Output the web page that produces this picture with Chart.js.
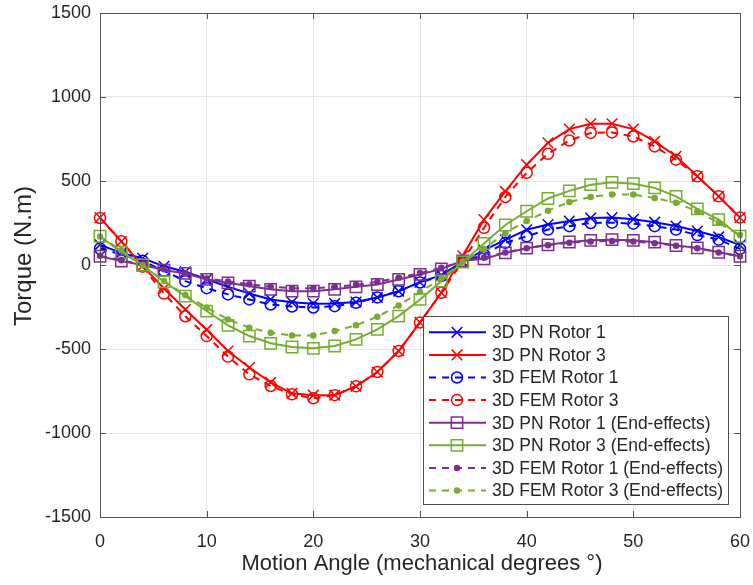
<!DOCTYPE html>
<html>
<head>
<meta charset="utf-8">
<script src="https://cdn.jsdelivr.net/npm/chart.js@4.4.0/dist/chart.umd.min.js"></script>
<style>
  body { margin: 0; background: #fff; }
</style>
</head>
<body>
<canvas id="torque-chart" width="753" height="585"></canvas>
<script>
// DATA (motion angle in mechanical degrees, torque in N.m)
const angles = [0, 2, 4, 6, 8, 10, 12, 14, 16, 18, 20, 22, 24, 26, 28, 30,
  32, 34, 36, 38, 40, 42, 44, 46, 48, 50, 52, 54, 56, 58, 60];

const pnRotor1 = [120, 72, 40, -8, -40, -85, -130, -170, -205, -222, -230, -229, -220, -193, -156, -102,
  -60, 20, 88, 150, 210, 241, 262, 280, 282, 272, 255, 232, 202, 167, 118];
const pnRotor3 = [282, 140, -5, -140, -265, -385, -512, -610, -699, -764, -775, -775, -722, -637, -512, -342,
  -165, 55, 270, 438, 597, 727, 809, 841, 841, 809, 736, 647, 528, 409, 282];
const femRotor1 = [98, 62, 25, -35, -96, -138, -175, -205, -235, -247, -253, -245, -225, -193, -156, -104,
  -66, 20, 62, 132, 171, 211, 231, 250, 252, 246, 231, 211, 178, 151, 96];
const femRotor3 = [280, 141, -10, -170, -305, -423, -545, -651, -720, -770, -793, -775, -722, -637, -512, -342,
  -165, 23, 221, 405, 549, 662, 741, 786, 789, 765, 706, 627, 528, 409, 282];
const pnRotor1End = [52, 23, 0, -30, -50, -86, -106, -126, -145, -156, -156, -145, -130, -116, -86, -56,
  -23, 25, 37, 72, 100, 120, 137, 147, 151, 147, 136, 116, 102, 76, 52];
const pnRotor3End = [171, 76, 0, -100, -185, -274, -359, -423, -466, -488, -496, -482, -443, -383, -304, -205,
  -96, 18, 128, 238, 320, 396, 441, 478, 492, 484, 459, 409, 334, 270, 171];
const femRotor1End = [55, 28, 2, -25, -48, -80, -98, -115, -130, -138, -138, -130, -118, -100, -76, -48,
  -17, 22, 45, 75, 100, 118, 132, 140, 143, 140, 130, 115, 100, 75, 52];
const femRotor3End = [170, 88, -2, -95, -179, -254, -324, -373, -403, -419, -419, -393, -359, -308, -241, -161,
  -80, 20, 95, 191, 262, 323, 375, 405, 419, 419, 399, 370, 320, 251, 178];

const seriesNames = ['3D PN Rotor 1', '3D PN Rotor 3', '3D FEM Rotor 1', '3D FEM Rotor 3',
  '3D PN Rotor 1 (End-effects)', '3D PN Rotor 3 (End-effects)',
  '3D FEM Rotor 1 (End-effects)', '3D FEM Rotor 3 (End-effects)'];
const seriesValues = [pnRotor1, pnRotor3, femRotor1, femRotor3,
  pnRotor1End, pnRotor3End, femRotor1End, femRotor3End];

const xTicks = { min: 0, max: 60, step: 10 };
const yTicks = { min: -1500, max: 1500, step: 500 };

// STYLES
const BLUE = '#0000ff';
const RED = '#ff0000';
const PURPLE = '#7e2f8e';
const GREEN = '#77ac30';
const TEXT = '#262626';
const AXIS = '#555555';
const FONT = "'Liberation Sans', Arial, sans-serif";
const DASH = [7, 6];

const styles = [
  { color: BLUE, dash: [], marker: 'crossRot', r: 7.5, fill: false },
  { color: RED, dash: [], marker: 'crossRot', r: 7.5, fill: false },
  { color: BLUE, dash: DASH, marker: 'circle', r: 5.5, fill: false },
  { color: RED, dash: DASH, marker: 'circle', r: 5.5, fill: false },
  { color: PURPLE, dash: [], marker: 'rect', r: 8, fill: false },
  { color: GREEN, dash: [], marker: 'rect', r: 8, fill: false },
  { color: PURPLE, dash: DASH, marker: 'circle', r: 2.5, fill: true },
  { color: GREEN, dash: DASH, marker: 'circle', r: 2.5, fill: true }
];

function toPoints(vals) {
  return angles.map((a, i) => ({ x: a, y: vals[i] }));
}

// BUILD THE DATASETS FROM THE ARRAYS
const datasets = seriesValues.map((vals, i) => ({
  label: seriesNames[i],
  data: toPoints(vals),
  borderColor: styles[i].color,
  backgroundColor: styles[i].fill ? styles[i].color : 'rgba(0,0,0,0)',
  borderWidth: 2,
  borderDash: styles[i].dash,
  pointStyle: styles[i].marker,
  pointRadius: styles[i].r,
  pointBorderWidth: 1.5,
  pointBackgroundColor: styles[i].fill ? styles[i].color : 'rgba(0,0,0,0)',
  pointBorderColor: styles[i].color,
  tension: 0,
  fill: false,
  clip: false,
  order: seriesNames.length - i
}));

// FRAME, INWARD TICKS, AXIS TITLES AND THE BOXED LEGEND
const matlabLook = {
  id: 'matlabLook',
  afterDraw(chart) {
    const ctx = chart.ctx;
    const { left, right, top, bottom } = chart.chartArea;
    const xs = chart.scales.x;
    const ys = chart.scales.y;

    ctx.save();
    ctx.strokeStyle = AXIS;
    ctx.lineWidth = 1;
    ctx.setLineDash([]);
    ctx.beginPath();
    xs.ticks.forEach(t => {
      const px = Math.round(xs.getPixelForValue(t.value)) + 0.5;
      ctx.moveTo(px, bottom); ctx.lineTo(px, bottom - 6);
      ctx.moveTo(px, top); ctx.lineTo(px, top + 6);
    });
    ys.ticks.forEach(t => {
      const py = Math.round(ys.getPixelForValue(t.value)) + 0.5;
      ctx.moveTo(left, py); ctx.lineTo(left + 6, py);
      ctx.moveTo(right, py); ctx.lineTo(right - 6, py);
    });
    ctx.stroke();
    ctx.strokeRect(Math.round(left) + 0.5, Math.round(top) + 0.5,
      Math.round(right - left), Math.round(bottom - top));

    // axis titles
    ctx.fillStyle = TEXT;
    ctx.textAlign = 'center';
    ctx.textBaseline = 'middle';
    ctx.font = '22px ' + FONT;
    ctx.fillText('Motion Angle (mechanical degrees °)', (left + right) / 2 + 2, 564);
    ctx.save();
    ctx.translate(24, (top + bottom) / 2 - 9);
    ctx.rotate(-Math.PI / 2);
    ctx.font = '24px ' + FONT;
    ctx.fillText('Torque (N.m)', 0, 0);
    ctx.restore();

    // legend
    ctx.font = '17.5px ' + FONT;
    let maxW = 0;
    seriesNames.forEach(n => { maxW = Math.max(maxW, ctx.measureText(n).width); });
    const rowH = 22.6;
    const boxW = Math.round(69 + maxW + 5);
    const boxH = Math.round(16.3 + 7 * rowH + 13.3);
    const bx = Math.round(right - 12 - boxW);
    const by = Math.round(bottom - 13 - boxH);
    ctx.fillStyle = '#ffffff';
    ctx.fillRect(bx, by, boxW, boxH);
    ctx.strokeStyle = '#4d4d4d';
    ctx.strokeRect(bx + 0.5, by + 0.5, boxW, boxH);

    chart.data.datasets.forEach((ds, i) => {
      const y = by + 16.3 + i * rowH;
      ctx.save();
      ctx.strokeStyle = ds.borderColor;
      ctx.lineWidth = 2;
      ctx.setLineDash(ds.borderDash);
      ctx.beginPath();
      ctx.moveTo(bx + 6, y);
      ctx.lineTo(bx + 63, y);
      ctx.stroke();
      ctx.setLineDash([]);
      ctx.lineWidth = 1.5;
      ctx.fillStyle = ds.pointBackgroundColor;
      Chart.helpers.drawPoint(ctx, {
        pointStyle: ds.pointStyle,
        radius: ds.pointRadius,
        rotation: 0,
        borderWidth: 1.5
      }, bx + 34, y);
      ctx.restore();
      ctx.fillStyle = TEXT;
      ctx.textAlign = 'left';
      ctx.textBaseline = 'middle';
      ctx.fillText(ds.label, bx + 69, y + 1);
    });
    ctx.restore();
  }
};

const ctx = document.getElementById('torque-chart');
new Chart(ctx, {
  type: 'line',
  data: { datasets: datasets },
  options: {
    responsive: false,
    animation: false,
    devicePixelRatio: 1,
    layout: { padding: { top: 13, right: 13, left: 0, bottom: 0 } },
    plugins: {
      legend: { display: false },
      tooltip: { enabled: false }
    },
    scales: {
      x: {
        type: 'linear',
        min: xTicks.min,
        max: xTicks.max,
        afterFit(scale) {
          scale.height = 68;
          scale.paddingLeft = 0;
          scale.paddingRight = 0;
        },
        border: { display: false },
        grid: { color: '#e6e6e6', drawTicks: false },
        ticks: {
          stepSize: xTicks.step,
          padding: 14,
          color: TEXT,
          font: { family: FONT, size: 18 },
          maxRotation: 0
        }
      },
      y: {
        type: 'linear',
        min: yTicks.min,
        max: yTicks.max,
        afterFit(scale) {
          scale.width = 100;
          scale.paddingTop = 0;
          scale.paddingBottom = 0;
        },
        border: { display: false },
        grid: { color: '#e6e6e6', drawTicks: false },
        ticks: {
          stepSize: yTicks.step,
          padding: 9,
          color: TEXT,
          font: { family: FONT, size: 18 },
          callback: v => String(v)
        }
      }
    }
  },
  plugins: [matlabLook]
});
</script>
</body>
</html>
